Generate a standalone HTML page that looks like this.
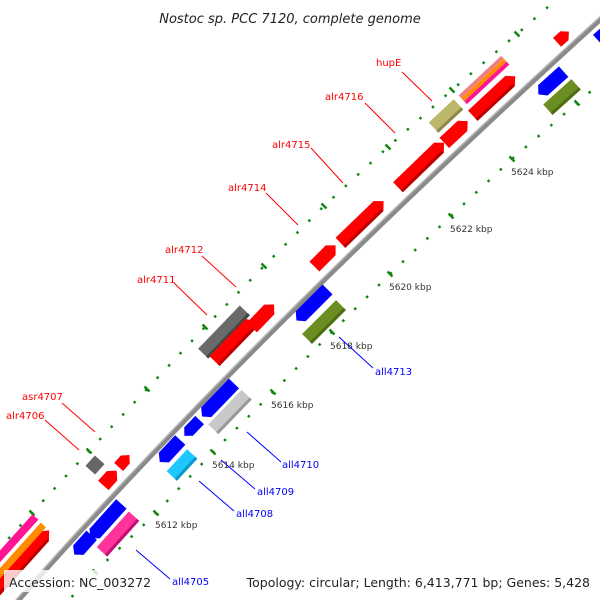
<!DOCTYPE html>
<html><head><meta charset="utf-8"><style>
html,body{margin:0;padding:0;background:#fff;width:600px;height:600px;overflow:hidden;}
svg{display:block;}
text{font-family:"DejaVu Sans","Liberation Sans",sans-serif;}
</style></head><body>
<svg width="600" height="600" viewBox="0 0 600 600" xmlns="http://www.w3.org/2000/svg" style="overflow:hidden">
<!-- dotted tick circles -->
<g fill="none" stroke="#118811" stroke-width="2.5">
<polyline points="-25,575 32,513 89,451 147,389 205,327 264,266 324,206 388,147 452,90 517,34 556,0" stroke-dasharray="2.5 14.3" stroke-dashoffset="1.2"/>
<polyline points="38,633 95,572 156,513 213,452 273,392 332,332 390,274 451,216 512,159 577,103 610,75" stroke-dasharray="2.5 14.3" stroke-dashoffset="1.2"/>
</g>
<g stroke="#118811" stroke-width="2.5">
<line x1="29.5" y1="510.5" x2="34.5" y2="515.5"/>
<line x1="86.5" y1="448.5" x2="91.5" y2="453.5"/>
<line x1="144.5" y1="386.5" x2="149.5" y2="391.5"/>
<line x1="202.5" y1="324.5" x2="207.5" y2="329.5"/>
<line x1="261.5" y1="263.5" x2="266.5" y2="268.5"/>
<line x1="321.5" y1="203.5" x2="326.5" y2="208.5"/>
<line x1="385.5" y1="144.5" x2="390.5" y2="149.5"/>
<line x1="449.5" y1="87.5" x2="454.5" y2="92.5"/>
<line x1="514.5" y1="31.5" x2="519.5" y2="36.5"/>
<line x1="92.5" y1="569.5" x2="97.5" y2="574.5"/>
<line x1="153.5" y1="510.5" x2="158.5" y2="515.5"/>
<line x1="210.5" y1="449.5" x2="215.5" y2="454.5"/>
<line x1="270.5" y1="389.5" x2="275.5" y2="394.5"/>
<line x1="329.5" y1="329.5" x2="334.5" y2="334.5"/>
<line x1="387.5" y1="271.5" x2="392.5" y2="276.5"/>
<line x1="448.5" y1="213.5" x2="453.5" y2="218.5"/>
<line x1="509.5" y1="156.5" x2="514.5" y2="161.5"/>
<line x1="574.5" y1="100.5" x2="579.5" y2="105.5"/>
</g>
<!-- backbone -->
<path d="M17,602 Q242,346 602,18" fill="none" stroke="#8a8a8a" stroke-width="5"/>
<path d="M16,600 Q241,344 601,16" fill="none" stroke="#b5b5b5" stroke-width="1.5"/>

<!-- forward features -->
<g>
<g transform="translate(17,566) rotate(-48)"><polygon points="-48,-7 40,-7 48,0 40,7 -48,7" fill="#ff0000"/><rect x="-48" y="4" width="88" height="3" fill="#b00"/></g>
<g transform="translate(20,551) rotate(-48)"><rect x="-45" y="-3.5" width="80" height="7" fill="#ff8c00"/></g>
<g transform="translate(12,543) rotate(-48)"><rect x="-45" y="-4" width="80" height="8" fill="#ff1493"/></g>
<g transform="translate(110,478) rotate(-48)"><polygon points="-10,-7 3,-7 10,0 3,7 -10,7" fill="#ff0000"/></g>
<g transform="translate(95,465) rotate(-48)"><rect x="-7" y="-6.5" width="14" height="13" fill="#666"/></g>
<g transform="translate(124,461) rotate(-48)"><polygon points="-8,-6 2,-6 8,0 2,6 -8,6" fill="#ff0000"/></g>
<g transform="translate(224,332) rotate(-46)"><rect x="-30" y="-7" width="60" height="14" fill="#6a6a6a"/><rect x="-30" y="4" width="60" height="3" fill="#444"/></g>
<g transform="translate(234,341) rotate(-46)"><polygon points="-28,-7 24,-7 28,0 24,7 -28,7" fill="#ff0000"/><rect x="-28" y="4" width="52" height="3" fill="#b00"/></g>
<g transform="translate(263,316) rotate(-46)"><polygon points="-16,-7 9,-7 16,0 9,7 -16,7" fill="#ff0000"/></g>
<g transform="translate(325,256) rotate(-45)"><polygon points="-15,-7 8,-7 15,0 8,7 -15,7" fill="#ff0000"/></g>
<g transform="translate(362,222) rotate(-44)"><polygon points="-30,-7 23,-7 30,0 23,7 -30,7" fill="#ff0000"/><rect x="-30" y="4" width="53" height="3" fill="#b00"/></g>
<g transform="translate(421,165) rotate(-44)"><polygon points="-32,-7 25,-7 32,0 25,7 -32,7" fill="#ff0000"/><rect x="-32" y="4" width="57" height="3" fill="#b00"/></g>
<g transform="translate(456,132) rotate(-43)"><polygon points="-16,-7 9,-7 16,0 9,7 -16,7" fill="#ff0000"/></g>
<g transform="translate(446,116) rotate(-43)"><rect x="-17" y="-7" width="34" height="14" fill="#bdb76b"/><rect x="-17" y="4" width="34" height="3" fill="#8d874b"/></g>
<g transform="translate(494,96) rotate(-43)"><polygon points="-29,-7 22,-7 29,0 22,7 -29,7" fill="#ff0000"/><rect x="-29" y="4" width="51" height="3" fill="#b00"/></g>
<g transform="translate(484,80) rotate(-43)"><rect x="-29" y="-6" width="58" height="4" fill="#f08080"/><rect x="-29" y="-2" width="58" height="4" fill="#ff8c00"/><rect x="-29" y="2" width="58" height="4" fill="#ff1493"/></g>
<g transform="translate(563,37) rotate(-42)"><polygon points="-8,-6 2,-6 8,0 2,6 -8,6" fill="#ff0000"/></g>
</g>

<!-- reverse features -->
<g>
<g transform="translate(312,305) rotate(-45)"><polygon points="22,-7 -16,-7 -22,0 -16,7 22,7" fill="#0000ff"/></g>
<g transform="translate(324,322) rotate(-45)"><rect x="-24" y="-7" width="48" height="14" fill="#6b8e23"/><rect x="-24" y="4" width="48" height="3" fill="#4b6e13"/></g>
<g transform="translate(218,400) rotate(-46)"><polygon points="23,-7 -17,-7 -23,0 -17,7 23,7" fill="#0000ff"/></g>
<g transform="translate(230,412) rotate(-46)"><rect x="-24" y="-7" width="48" height="14" fill="#c8c8c8"/><rect x="-24" y="4" width="48" height="3" fill="#999"/></g>
<g transform="translate(192,428) rotate(-46)"><polygon points="11,-6 -5,-6 -11,0 -5,6 11,6" fill="#0000ff"/></g>
<g transform="translate(170,451) rotate(-47)"><polygon points="15,-7 -9,-7 -15,0 -9,7 15,7" fill="#0000ff"/></g>
<g transform="translate(182,465) rotate(-47)"><rect x="-15" y="-7" width="30" height="14" fill="#1ec8ff"/><rect x="-15" y="4" width="30" height="3" fill="#0a98cc"/></g>
<g transform="translate(106,521) rotate(-48)"><polygon points="23,-7 -17,-7 -23,0 -17,7 23,7" fill="#0000ff"/></g>
<g transform="translate(118,534) rotate(-48)"><rect x="-24" y="-7" width="48" height="14" fill="#ff3399"/><rect x="-24" y="4" width="48" height="3" fill="#c01070"/></g>
<g transform="translate(83,545) rotate(-48)"><polygon points="13,-7 -7,-7 -13,0 -7,7 13,7" fill="#0000ff"/></g>
<g transform="translate(551,83) rotate(-42)"><polygon points="17,-7 -11,-7 -17,0 -11,7 17,7" fill="#0000ff"/></g>
<g transform="translate(562,97) rotate(-42)"><rect x="-19" y="-7" width="38" height="14" fill="#6b8e23"/><rect x="-19" y="4" width="38" height="3" fill="#4b6e13"/></g>
<g transform="translate(603,34) rotate(-42)"><rect x="-8" y="-6" width="16" height="12" fill="#0000ff"/></g>
</g>

<!-- tick labels -->
<g font-size="9" fill="#333">
<text x="155" y="528">5612 kbp</text>
<text x="212" y="468">5614 kbp</text>
<text x="271" y="408">5616 kbp</text>
<text x="330" y="349">5618 kbp</text>
<text x="389" y="290">5620 kbp</text>
<text x="450" y="232">5622 kbp</text>
<text x="511" y="175">5624 kbp</text>
<text x="100" y="590" fill="#ccc">5610 kbp</text>
</g>

<!-- leader lines -->
<g stroke="#ff0000" stroke-width="1">
<line x1="402" y1="72" x2="432" y2="101"/>
<line x1="365" y1="103" x2="395" y2="133"/>
<line x1="311" y1="148" x2="343" y2="183"/>
<line x1="266" y1="193" x2="298" y2="225"/>
<line x1="202" y1="256" x2="236" y2="287"/>
<line x1="174" y1="283" x2="207" y2="315"/>
<line x1="62" y1="403" x2="95" y2="432"/>
<line x1="45" y1="420" x2="79" y2="450"/>
</g>
<g stroke="#0000ff" stroke-width="1">
<line x1="339" y1="337" x2="373" y2="368"/>
<line x1="247" y1="432" x2="281" y2="462"/>
<line x1="221" y1="460" x2="255" y2="489"/>
<line x1="199" y1="481" x2="234" y2="511"/>
<line x1="136" y1="550" x2="170" y2="579"/>
</g>
<g font-size="10" fill="#ff0000">
<text x="376" y="66">hupE</text>
<text x="325" y="100">alr4716</text>
<text x="272" y="148">alr4715</text>
<text x="228" y="191">alr4714</text>
<text x="165" y="253">alr4712</text>
<text x="137" y="283">alr4711</text>
<text x="22" y="400">asr4707</text>
<text x="6" y="419">alr4706</text>
</g>
<g font-size="10" fill="#0000ff">
<text x="375" y="375">all4713</text>
<text x="282" y="468">all4710</text>
<text x="257" y="495">all4709</text>
<text x="236" y="517">all4708</text>
<text x="172" y="585">all4705</text>
</g>

<text x="290" y="23" font-size="13" font-style="italic" text-anchor="middle" fill="#222">Nostoc sp. PCC 7120, complete genome</text>
<rect x="4" y="570" width="142" height="22" fill="#fff" fill-opacity="0.8"/>
<rect x="256" y="570" width="340" height="22" fill="#fff" fill-opacity="0.8"/>
<text x="9" y="587" font-size="12.5" fill="#222">Accession: NC_003272</text>
<text x="590" y="587" font-size="12.5" fill="#222" text-anchor="end">Topology: circular; Length: 6,413,771 bp; Genes: 5,428</text>
</svg>
</body></html>
